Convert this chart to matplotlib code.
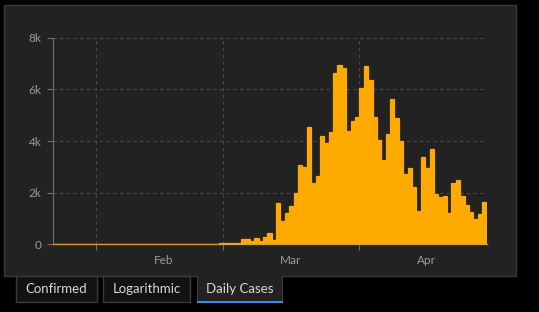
import matplotlib
matplotlib.use("Agg")
import matplotlib.pyplot as plt
import matplotlib.patches as mpatches
import pandas as pd
import datetime as dt

# ---------------- data ----------------
start_date = "2020-01-22"
daily_cases = [
    0, 0, 0, 0, 0, 1, 3, 0, 0, 1,          # Jan 22 - Jan 31
    3, 2, 0, 0, 0, 0, 2, 0, 0, 0,          # Feb 1 - Feb 10
    0, 2, 0, 0, 0, 0, 0, 0, 0, 0,          # Feb 11 - Feb 20
    0, 0, 0, 0, 0, 11, 26, 0, 39,          # Feb 21 - Feb 29
    40, 40, 40, 66, 220, 188, 129, 241, 136, 281,   # Mar 1 - Mar 10
    451, 170, 1597, 910, 1210, 1477, 1985, 3070, 2993, 4528,   # Mar 11 - Mar 20
    2365, 2660, 4183, 3930, 4337, 6615, 6933, 6824, 4400, 4790, 4923,  # Mar 21 - Mar 31
    6064, 6922, 6365, 4933, 4031, 3251, 4289, 5633, 4885, 3990,   # Apr 1 - Apr 10
    2737, 2946, 2218, 1287, 3394, 2945, 3699, 1945, 1842, 1881,   # Apr 11 - Apr 20
    1226, 2357, 2481, 1870, 1514, 1257, 988, 1154, 1627,          # Apr 21 - Apr 29
]
y_ticks = [0, 2000, 4000, 6000, 8000]
y_tick_labels = ["0", "2k", "4k", "6k", "8k"]
month_labels = ["Feb", "Mar", "Apr"]
tab_labels = ["Confirmed", "Logarithmic", "Daily Cases"]

dates = pd.date_range(start_date, periods=len(daily_cases), freq="D")

# ---------------- figure ----------------
W, H = 539, 312
fig = plt.figure(figsize=(W / 100, H / 100), dpi=100)
fig.patch.set_facecolor("#000000")
plt.rcParams["font.family"] = ["Lato", "DejaVu Sans"]


def rect_px(x0, y0, x1, y1, **kw):
    r = mpatches.Rectangle((x0 / W, 1 - y1 / H), (x1 - x0) / W, (y1 - y0) / H,
                           transform=fig.transFigure, **kw)
    fig.add_artist(r)
    return r


# main panel
rect_px(3.5, 5, 516, 275.5, facecolor="#222222", edgecolor="#3a3a3a",
        linewidth=1.0, zorder=0)

# tabs
tabs = [(16, 97), (103, 190), (197, 283)]
for i, ((x0, x1), lab) in enumerate(zip(tabs, tab_labels)):
    if i == 2:
        rect_px(x0, 275, x1, 302, facecolor="#222222", edgecolor="none", zorder=1)
        rect_px(x0, 275, x0 + 0.8, 302, facecolor="#3a3a3a", edgecolor="none", zorder=2)
        rect_px(x1 - 0.8, 275, x1, 302, facecolor="#3a3a3a", edgecolor="none", zorder=2)
        rect_px(x0, 300.5, x1, 302.5, facecolor="#2d8ee6", edgecolor="none", zorder=3)
    else:
        rect_px(x0, 276, x1, 302, facecolor="#121212", edgecolor="#3a3a3a",
                linewidth=1.0, zorder=1)
    fig.text(((x0 + x1) / 2) / W, 1 - 289 / H, lab, color="#d8d8d8",
             fontsize=9.5, ha="center", va="center", zorder=4)

# axes
ax_left, ax_right = 52.5, 486.5
ax_top, ax_bottom = 37.7, 244.3
ax = fig.add_axes([ax_left / W, 1 - ax_bottom / H,
                   (ax_right - ax_left) / W, (ax_bottom - ax_top) / H])
ax.set_facecolor("none")

ax.bar(dates, daily_cases, width=1.0, align="edge", color="#FFAA00",
       edgecolor="#FFAA00", linewidth=0.9, zorder=3)

ax.set_xlim(dates[0], dates[-1] + pd.Timedelta(days=1))
ax.set_ylim(0, 8000)

# y axis
ax.set_yticks(y_ticks)
ax.set_yticklabels(y_tick_labels)
ax.tick_params(axis="y", colors="#6e6e6e", length=4, width=0.8, pad=4,
               labelcolor="#9a9a9a", labelsize=8.5)
for yv in y_ticks[1:]:
    ax.axhline(yv, color="#484848", linewidth=0.8, linestyle=(0, (3, 3)), zorder=1)

# x axis
major = [dt.datetime(2020, 2, 1), dt.datetime(2020, 3, 1), dt.datetime(2020, 4, 1)]
minor = [dt.datetime(2020, 2, 16, 8), dt.datetime(2020, 3, 16, 8), dt.datetime(2020, 4, 16, 8)]
ax.set_xticks(major)
ax.set_xticklabels([])
ax.set_xticks(minor, minor=True)
ax.set_xticklabels(month_labels, minor=True)
ax.tick_params(axis="x", which="major", colors="#6e6e6e", length=4, width=0.8)
ax.tick_params(axis="x", which="minor", length=0, pad=8, labelcolor="#9a9a9a",
               labelsize=8.5)
for xv in major:
    ax.axvline(xv, color="#484848", linewidth=0.8, linestyle=(0, (3, 3)), zorder=1)

for s in ["top", "right"]:
    ax.spines[s].set_visible(False)
ax.spines["left"].set_color("#6e6e6e")
ax.spines["left"].set_linewidth(0.8)
ax.spines["bottom"].set_color("#d9a030")
ax.spines["bottom"].set_linewidth(0.9)
ax.spines["bottom"].set_zorder(4)

fig.savefig("out.png", dpi=100, facecolor=fig.get_facecolor())
